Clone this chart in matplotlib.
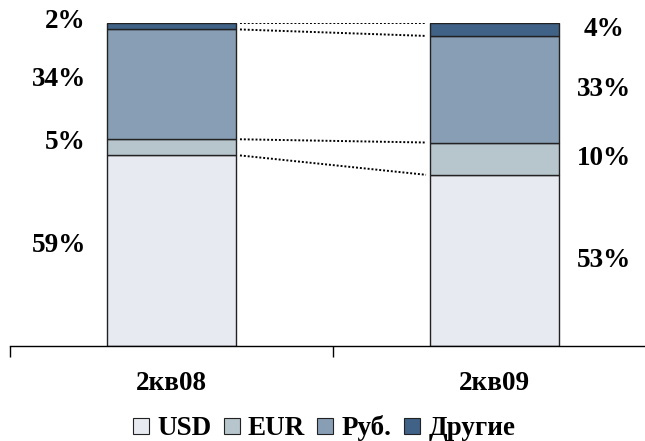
import numpy as np
import matplotlib
matplotlib.use("Agg")
import matplotlib.pyplot as plt
from matplotlib.lines import Line2D

# данные: структура по валютам, %
periods = ["2кв08", "2кв09"]
series = ["USD", "EUR", "Руб.", "Другие"]
usd = [59, 53]
eur = [5, 10]
rub = [34, 33]
other = [2, 4]
colors = ["#E7EAF0", "#B7C5CC", "#889EB4", "#3F6286"]

plt.rcParams['font.family'] = ['Liberation Serif', 'DejaVu Serif']

fig = plt.figure(figsize=(6.45, 4.41), dpi=100)
ax = fig.add_axes([10 / 645, 1 - 346 / 441, 646 / 645, 323 / 441])

x = np.arange(len(periods))
w = 0.4
values = np.array([usd, eur, rub, other])
bottoms = np.vstack([np.zeros(len(periods)), np.cumsum(values, axis=0)[:-1]])

for i, name in enumerate(series):
    ax.bar(x, values[i], w, bottom=bottoms[i], color=colors[i],
           edgecolor="#222222", linewidth=1.0, label=name, zorder=2)

# пунктирные линии между столбцами
tops = np.cumsum(values, axis=0)
gap = 0.012
for i in range(len(series)):
    ax.plot([x[0] + w / 2 + gap, x[1] - w / 2 - gap], [tops[i][0], tops[i][1]],
            linestyle=(0, (1, 1)), color="black", linewidth=1.4, zorder=1)

# подписи значений
for i in range(len(series)):
    mid = bottoms[i] + values[i] / 2
    ax.text(x[0] - w / 2 - 0.065, mid[0] + 1.5, f"{values[i][0]}%", ha="right", va="center",
            fontsize=19.5, fontweight="bold")
    ax.text(x[1] + w / 2 + 0.139, mid[1], f"{values[i][1]}%", ha="center", va="center",
            fontsize=19.5, fontweight="bold")

ax.set_xlim(-0.5, 1.5)
ax.set_ylim(0, 100)
for s in ["top", "right", "left"]:
    ax.spines[s].set_visible(False)
ax.spines["bottom"].set_linewidth(1.0)
ax.set_yticks([])
ax.set_xticks([-0.5, 0.5, 1.5])
ax.set_xticklabels([])
ax.tick_params(axis="x", direction="out", length=8, width=1.0)
for xi, lab in zip(x, periods):
    ax.text(xi, -11.5, lab, ha="center", va="center", fontsize=19.5, fontweight="bold",
            clip_on=False)

handles = [Line2D([], [], marker="s", linestyle="none", markersize=11.5,
                  markerfacecolor=c, markeredgecolor="#222222", markeredgewidth=0.8)
           for c in colors]
fig.legend(handles, series, loc="center", bbox_to_anchor=(324 / 645, 1 - 428 / 441),
           ncol=4, frameon=False, handlelength=0.6, handletextpad=0.3,
           columnspacing=0.45, borderpad=0, prop={"size": 19.5, "weight": "bold"})

fig.savefig("out.png", dpi=100)
